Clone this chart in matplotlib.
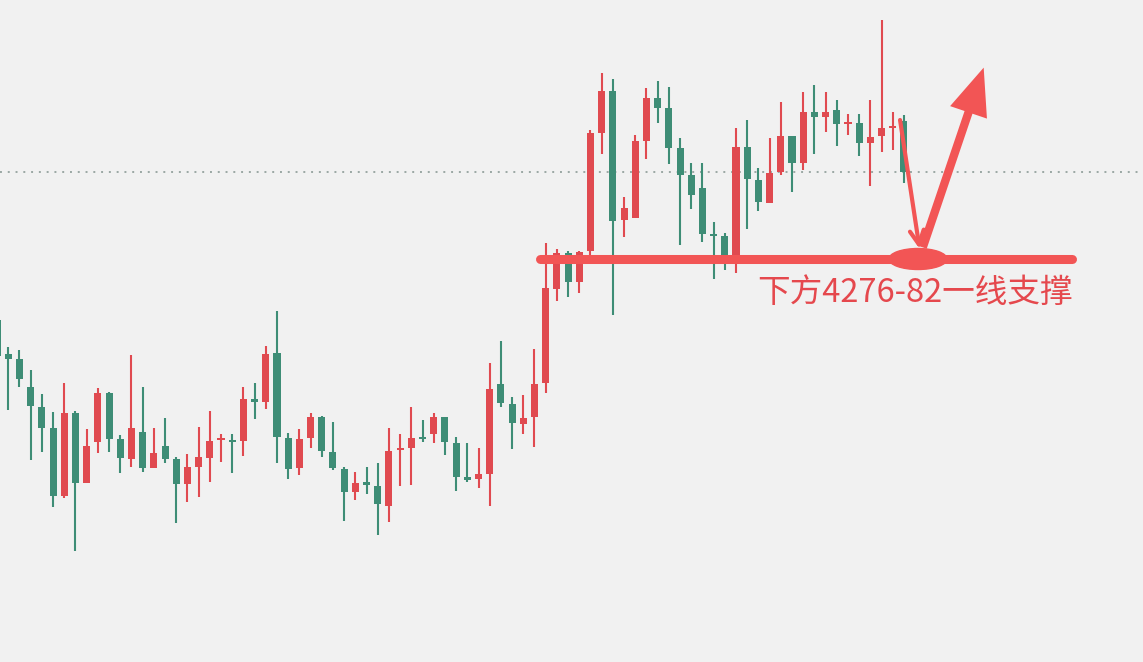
import matplotlib

matplotlib.use("Agg")
import matplotlib.pyplot as plt  # noqa: E402
import numpy as np  # noqa: E402
from matplotlib.patches import Ellipse, FancyArrowPatch  # noqa: E402

# OHLC of the visible candles (oldest -> newest)
opens = [4220, 4186, 4181, 4153, 4133, 4112, 4044, 4127, 4057, 4098,
         4147, 4101, 4081, 4108, 4072, 4094, 4081, 4056, 4073, 4082,
         4100, 4100, 4099, 4141, 4138, 4187, 4102, 4072, 4102, 4123,
         4088, 4071, 4048, 4058, 4054, 4034, 4090, 4092, 4103, 4106,
         4123, 4097, 4063, 4061, 4066, 4156, 4136, 4116, 4123, 4157,
         4251, 4287, 4258, 4289, 4407, 4449, 4320, 4322, 4399, 4442,
         4432, 4392, 4365, 4352, 4306, 4304, 4277, 4393, 4360, 4337,
         4368, 4404, 4377, 4428, 4423, 4430, 4416, 4417, 4397, 4404,
         4412, 4419]
highs = [4225, 4193, 4190, 4170, 4146, 4128, 4157, 4129, 4111, 4152,
         4148, 4105, 4185, 4153, 4112, 4122, 4083, 4086, 4113, 4129,
         4106, 4106, 4153, 4157, 4194, 4229, 4107, 4111, 4127, 4124,
         4118, 4073, 4068, 4073, 4077, 4112, 4106, 4133, 4120, 4127,
         4123, 4103, 4097, 4092, 4177, 4199, 4143, 4145, 4191, 4297,
         4291, 4289, 4289, 4410, 4467, 4461, 4343, 4405, 4452, 4459,
         4453, 4402, 4377, 4377, 4318, 4307, 4412, 4420, 4372, 4402,
         4438, 4404, 4448, 4455, 4448, 4440, 4426, 4426, 4440, 4520,
         4428, 4425]
lows = [4175, 4130, 4153, 4080, 4088, 4033, 4042, 3989, 4057, 4087,
        4088, 4067, 4073, 4068, 4072, 4077, 4017, 4038, 4043, 4058,
        4078, 4067, 4084, 4121, 4131, 4077, 4061, 4065, 4092, 4083,
        4070, 4019, 4040, 4046, 4005, 4018, 4054, 4055, 4098, 4097,
        4085, 4049, 4058, 4052, 4034, 4133, 4091, 4106, 4093, 4147,
        4239, 4243, 4247, 4285, 4386, 4225, 4303, 4322, 4381, 4417,
        4376, 4295, 4331, 4298, 4261, 4270, 4267, 4311, 4329, 4337,
        4365, 4348, 4370, 4386, 4408, 4394, 4405, 4384, 4354, 4388,
        4390, 4357]
closes = [4184, 4181, 4161, 4134, 4112, 4044, 4127, 4057, 4094, 4147,
          4101, 4082, 4112, 4072, 4087, 4081, 4056, 4073, 4083, 4099,
          4102, 4098, 4141, 4138, 4186, 4103, 4071, 4101, 4123, 4089,
          4072, 4048, 4057, 4055, 4036, 4089, 4092, 4102, 4101, 4123,
          4098, 4063, 4060, 4066, 4151, 4137, 4117, 4122, 4156, 4252,
          4287, 4258, 4288, 4407, 4449, 4319, 4332, 4399, 4442, 4432,
          4392, 4365, 4345, 4306, 4304, 4277, 4393, 4361, 4338, 4367,
          4404, 4377, 4428, 4423, 4428, 4416, 4417, 4397, 4403, 4412,
          4414, 4368]

SUPPORT = 4281
LABEL = "下方4276-82一线支撑"

UP = "#E04A50"
DOWN = "#3E8D76"
MARK = "#F25555"
BG = "#F1F1F1"

plt.rcParams["font.family"] = ["Noto Sans CJK SC", "DejaVu Sans"]


def draw_candles(ax):
    o = np.array(opens, float)
    c = np.array(closes, float)
    x = np.arange(len(o))
    colors = [UP if cc >= oo else DOWN for oo, cc in zip(o, c)]
    ax.vlines(x, lows, highs, colors=colors, linewidth=1.5, zorder=2)
    bottom = np.minimum(o, c)
    height = np.maximum(np.abs(c - o), 2.0)
    ax.bar(x, height, bottom=bottom, width=0.63, color=colors, zorder=3)


def draw_marks(ax):
    last = len(closes) - 1
    ax.axhline(closes[-1], color="#9AA7A3", linewidth=1.4,
               linestyle=(0, (1, 3)), zorder=1)
    ax.plot([48.5, 96.0], [SUPPORT, SUPPORT], color=MARK, linewidth=6.5,
            solid_capstyle="round", zorder=4)
    ax.add_patch(Ellipse((last + 1.25, SUPPORT), 5.2, 21, color=MARK, zorder=4))
    # drop back to support
    ax.annotate("", xy=(last + 1.4, SUPPORT + 10), xytext=(last - 0.35, highs[-1] - 5),
                arrowprops=dict(arrowstyle="->,head_length=1.0,head_width=0.5",
                                color=MARK, lw=3.0, shrinkA=0, shrinkB=0), zorder=5)
    # bounce higher
    up = FancyArrowPatch((last + 1.6, SUPPORT + 9), (last + 7.2, 4475),
                         arrowstyle="simple,head_length=3.4,head_width=2.8,tail_width=0.6",
                         mutation_scale=10, color=MARK, linewidth=0, zorder=5)
    ax.add_patch(up)
    ax.text(67.85, SUPPORT - 34, LABEL, color="#E5484D", fontsize=23.5,
            fontweight="medium", va="center", ha="left", zorder=6)


def main() -> None:
    fig = plt.figure(figsize=(11.43, 6.62), dpi=100, facecolor=BG)
    ax = fig.add_axes([0, 0, 1, 1], facecolor=BG)
    draw_candles(ax)
    draw_marks(ax)
    ax.set_xlim(0.26, 102.35)
    ax.set_ylim(3878, 4540)
    ax.axis("off")
    fig.savefig("out.png", dpi=100, facecolor=BG)
    plt.close(fig)


if __name__ == "__main__":
    main()
